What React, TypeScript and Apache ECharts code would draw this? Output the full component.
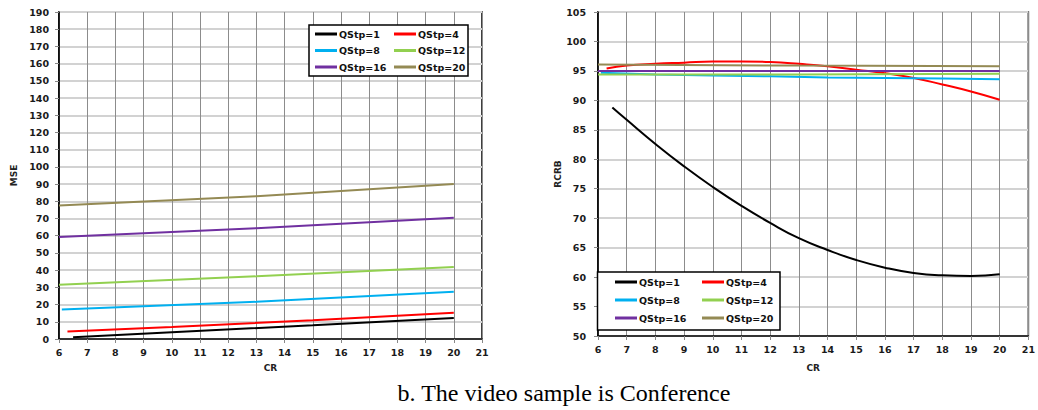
import React, { useEffect, useRef } from "react";
import * as echarts from "echarts";

// ---- MSE vs CR (left panel) ----
const mseNames = ["QStp=1", "QStp=4", "QStp=8", "QStp=12", "QStp=16", "QStp=20"];
const mseCR1 = [6.5, 10, 15, 20];
const mseVal1 = [1.0, 3.9, 8.0, 12.2];
const mseCR4 = [6.3, 10, 15, 20];
const mseVal4 = [4.4, 7.0, 10.9, 15.2];
const mseCR8 = [6.1, 13, 20];
const mseVal8 = [17.2, 21.6, 27.5];
const mseCR12 = [6, 13, 20];
const mseVal12 = [31.5, 36.4, 41.8];
const mseCR16 = [6, 13, 20];
const mseVal16 = [59.3, 64.4, 70.5];
const mseCR20 = [6, 13, 20];
const mseVal20 = [77.5, 83.0, 90.0];

// ---- RCRB vs CR (right panel) ----
const rcrbCR1 = [6.5, 7, 8, 9, 10, 11, 12, 13, 14, 15, 16, 17, 18, 19, 20];
const rcrbVal1 = [88.8, 86.7, 82.6, 78.8, 75.3, 72.1, 69.2, 66.6, 64.6, 62.9, 61.6, 60.7, 60.3, 60.2, 60.5];
const rcrbCR4 = [6.3, 7, 8, 9, 10, 11, 12, 13, 14, 15, 16, 17, 18, 19, 20];
const rcrbVal4 = [95.4, 95.9, 96.2, 96.4, 96.6, 96.6, 96.5, 96.2, 95.8, 95.2, 94.6, 93.8, 92.7, 91.5, 90.1];
const rcrbCR8 = [6.1, 8, 10, 12, 14, 16, 18, 20];
const rcrbVal8 = [94.7, 94.4, 94.2, 94.1, 93.9, 93.8, 93.7, 93.6];
const rcrbCR12 = [6, 13, 20];
const rcrbVal12 = [94.4, 94.4, 94.5];
const rcrbCR16 = [6, 13, 20];
const rcrbVal16 = [95.0, 95.0, 95.0];
const rcrbCR20 = [6, 13, 20];
const rcrbVal20 = [96.1, 95.9, 95.8];

const seriesColors = ["#000000", "#ff0000", "#00b0f0", "#92d050", "#7030a0", "#948a54"];
const captionText = "b. The video sample is Conference";

const zip = (xs: number[], ys: number[]) => xs.map((x, i) => [x, ys[i]]);

const labelFont = "'DejaVu Sans', Verdana, sans-serif";

function xAxisFor(gridIndex: number, nameGap: number) {
  return {
    type: "value",
    gridIndex,
    min: 6,
    max: 21,
    interval: 1,
    name: "CR",
    nameLocation: "middle",
    nameGap,
    nameTextStyle: { fontFamily: labelFont, fontSize: 9, fontWeight: "bold", color: "#222" },
    axisLine: { show: true, lineStyle: { color: "#000", width: 1.5 } },
    axisTick: { show: true, length: 4, lineStyle: { color: "#888" } },
    axisLabel: { margin: 8, fontFamily: labelFont, fontSize: 9.5, fontWeight: "bold", color: "#1a1a1a" },
    splitLine: { show: true, lineStyle: { color: "#8c8c8c", width: 1 } },
  };
}

function yAxisFor(gridIndex: number, min: number, max: number, interval: number, name: string, nameGap: number, margin: number) {
  return {
    type: "value",
    gridIndex,
    min,
    max,
    interval,
    name,
    nameLocation: "middle",
    nameGap,
    nameTextStyle: { fontFamily: labelFont, fontSize: 9, fontWeight: "bold", color: "#222" },
    axisLine: { show: true, lineStyle: { color: "#000", width: 1.5 } },
    axisTick: { show: true, length: 4, lineStyle: { color: "#888" } },
    axisLabel: { margin, fontFamily: labelFont, fontSize: 9.5, fontWeight: "bold", color: "#1a1a1a" },
    splitLine: { show: true, lineStyle: { color: "#d2d2d2", width: 1.8 } },
  };
}

function lineSeries(name: string, idx: number, data: number[][], color: string, smooth: boolean) {
  return {
    type: "line",
    name,
    xAxisIndex: idx,
    yAxisIndex: idx,
    data,
    smooth,
    showSymbol: false,
    symbol: "none",
    lineStyle: { color, width: 2 },
    itemStyle: { color },
    z: 3,
  };
}

function legendColumn(names: string[], left: number, top: number, gap: number) {
  return {
    orient: "vertical",
    left,
    top,
    data: names,
    icon: "rect",
    itemWidth: 22,
    itemHeight: 3,
    itemGap: gap,
    itemStyle: { borderWidth: 0 },
    textStyle: {
      fontFamily: labelFont,
      fontSize: 9.5,
      fontWeight: "bold",
      color: "#111",
      lineHeight: 12,
      padding: [0, 0, 0, -3],
    },
    padding: 0,
    selectedMode: false,
    z: 8,
  };
}

export default function App() {
  const ref = useRef<HTMLDivElement>(null);

  useEffect(() => {
    if (!ref.current) return;
    const chart = echarts.init(ref.current, undefined, { renderer: "svg" });

    const mseData = [
      zip(mseCR1, mseVal1),
      zip(mseCR4, mseVal4),
      zip(mseCR8, mseVal8),
      zip(mseCR12, mseVal12),
      zip(mseCR16, mseVal16),
      zip(mseCR20, mseVal20),
    ];
    const rcrbData = [
      zip(rcrbCR1, rcrbVal1),
      zip(rcrbCR4, rcrbVal4),
      zip(rcrbCR8, rcrbVal8),
      zip(rcrbCR12, rcrbVal12),
      zip(rcrbCR16, rcrbVal16),
      zip(rcrbCR20, rcrbVal20),
    ];

    const series: any[] = [];
    mseNames.forEach((n, i) => series.push(lineSeries(n, 0, mseData[i], seriesColors[i], false)));
    mseNames.forEach((n, i) => series.push(lineSeries(n, 1, rcrbData[i], seriesColors[i], i < 2)));

    const leftCol = [mseNames[0], mseNames[2], mseNames[4]];
    const rightCol = [mseNames[1], mseNames[3], mseNames[5]];

    chart.setOption({
      animation: false,
      backgroundColor: "#ffffff",
      grid: [
        { left: 59, top: 12, right: 556, bottom: 71, show: true, borderColor: "#000", borderWidth: 1.5, containLabel: false },
        { left: 598, top: 12, right: 5, bottom: 74, show: true, borderColor: "#000", borderWidth: 1.5, containLabel: false },
      ],
      xAxis: [xAxisFor(0, 24), xAxisFor(1, 27)],
      yAxis: [
        yAxisFor(0, 0, 190, 10, "MSE", 41, 10),
        yAxisFor(1, 50, 105, 5, "RCRB", 36, 12),
      ],
      legend: [
        legendColumn(leftCol, 315, 28, 4.5),
        legendColumn(rightCol, 394, 28, 4.5),
        legendColumn(leftCol, 615, 276, 6),
        legendColumn(rightCol, 702, 276, 6),
      ],
      graphic: [
        {
          type: "rect",
          z: 6,
          shape: { x: 309, y: 25, width: 159, height: 51 },
          style: { fill: "#ffffff", stroke: "#000", lineWidth: 1.5 },
        },
        {
          type: "rect",
          z: 6,
          shape: { x: 597.5, y: 272, width: 182.5, height: 58 },
          style: { fill: "#ffffff", stroke: "#000", lineWidth: 1.5 },
        },
        {
          type: "text",
          z: 6,
          x: 564,
          y: 393,
          style: {
            text: captionText,
            fontFamily: "'Liberation Serif', 'Times New Roman', serif",
            fontSize: 24,
            fill: "#000",
            textAlign: "center",
            textVerticalAlign: "middle",
          },
        },
      ],
      series,
    });

    return () => chart.dispose();
  }, []);

  return (
    <div
      ref={ref}
      style={{ position: "fixed", left: 0, top: 0, width: 1038, height: 410, background: "#fff" }}
    />
  );
}
